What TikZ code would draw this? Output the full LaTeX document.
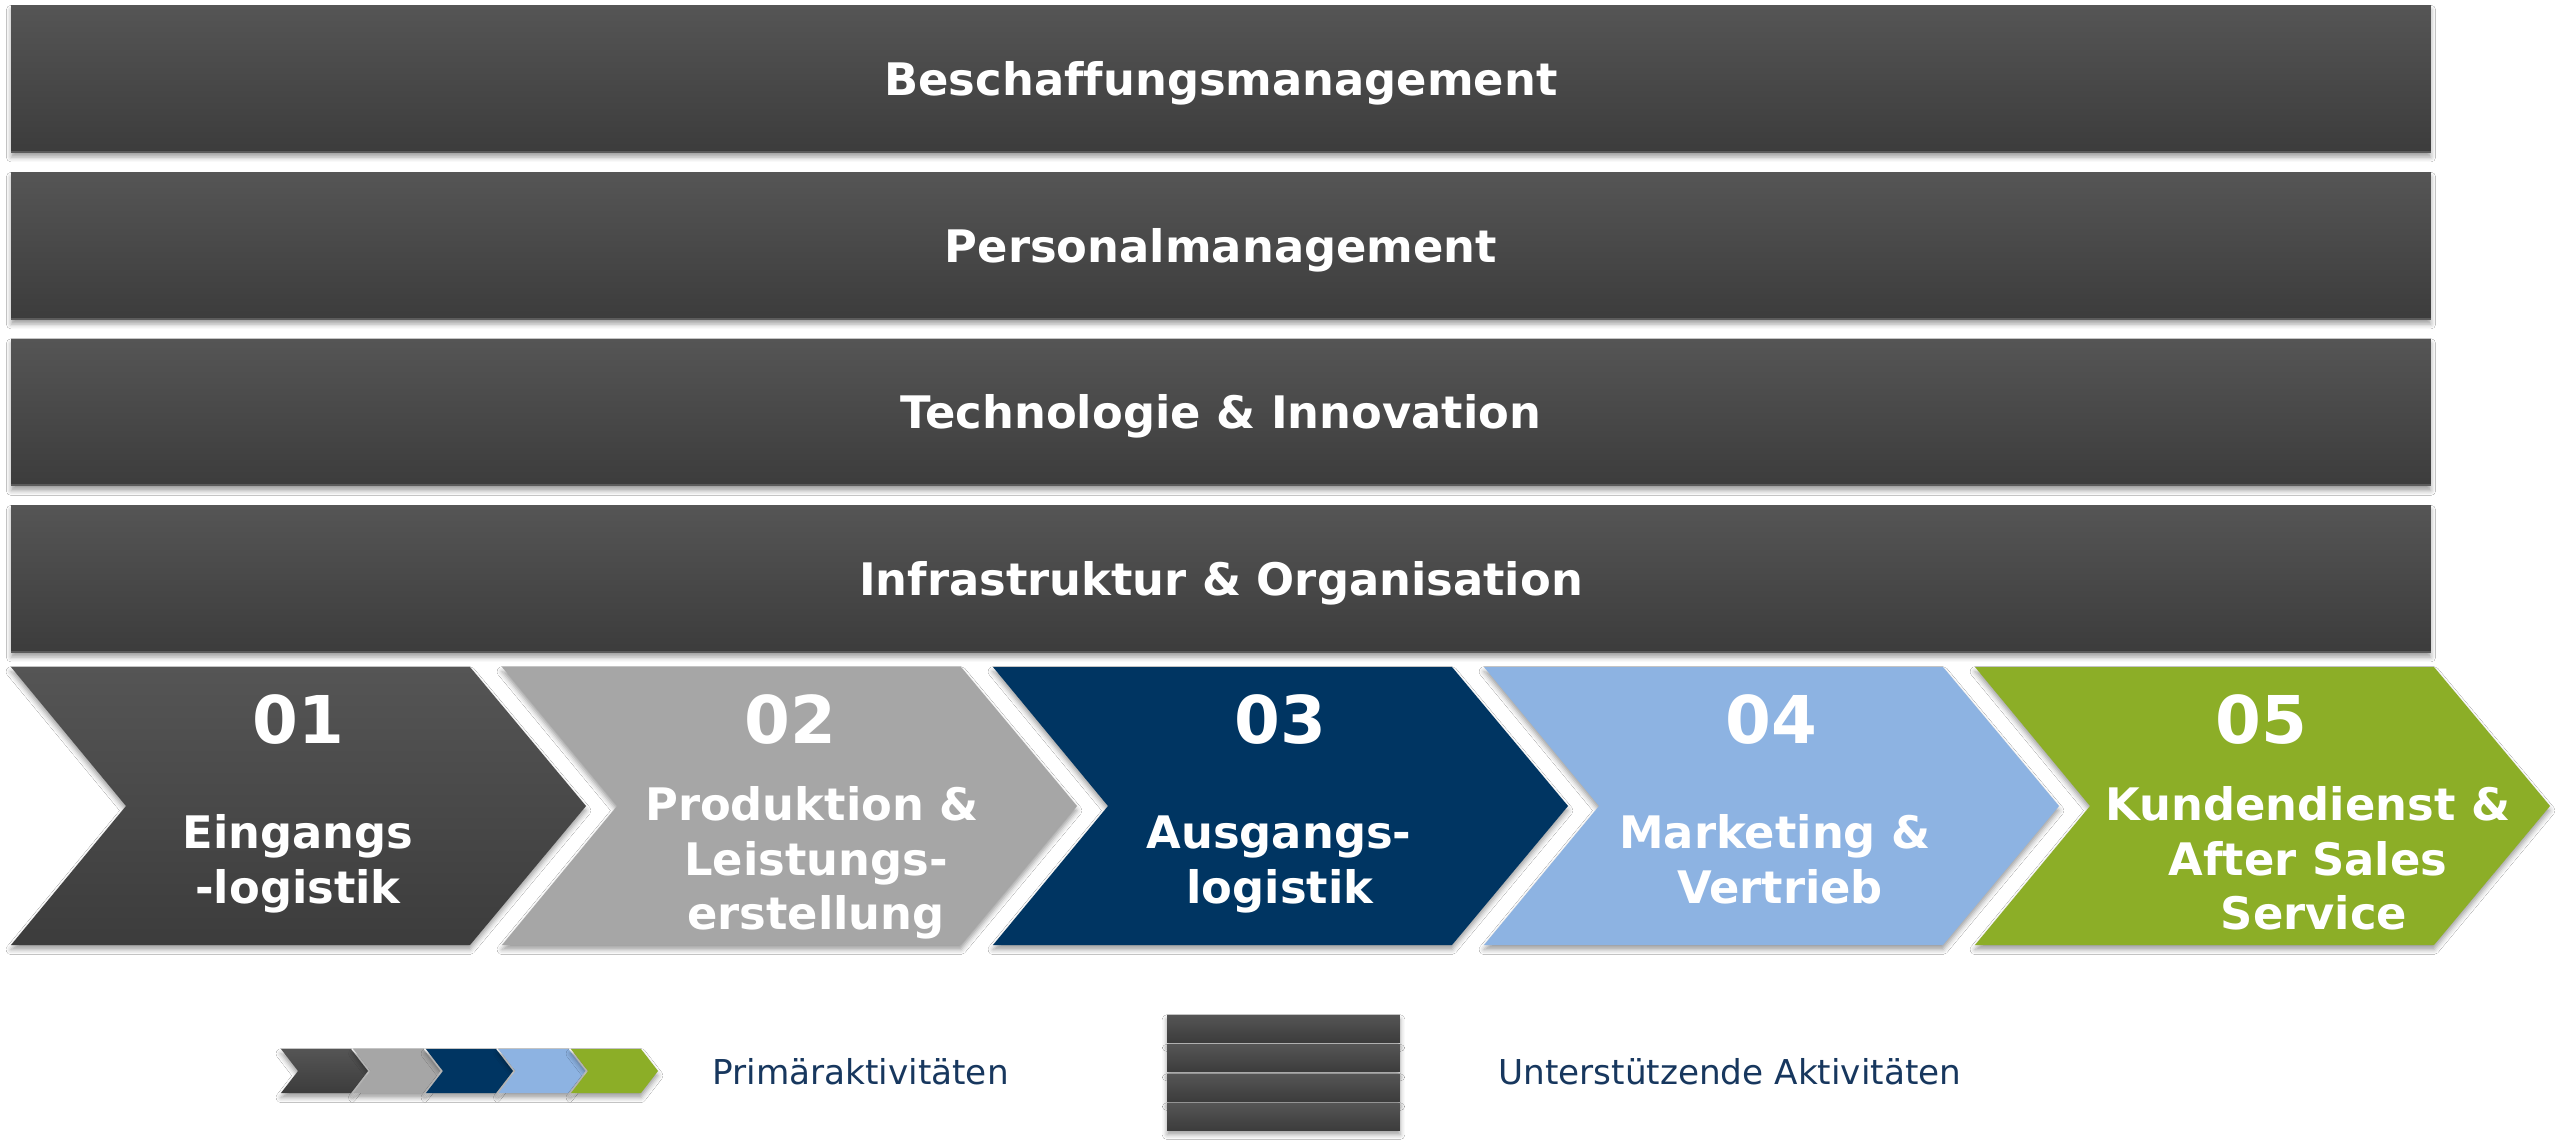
\documentclass[tikz,border=0pt]{standalone}
\usepackage{fontspec}
\setmainfont[Ligatures=NoCommon]{DejaVu Sans}
\usetikzlibrary{shadows.blur}
\definecolor{darktop}{HTML}{555555}
\definecolor{darkbot}{HTML}{3C3C3C}
\definecolor{edgegray}{HTML}{5C5C5C}
\definecolor{midgray}{HTML}{A6A6A6}
\definecolor{navy}{HTML}{003562}
\definecolor{lightblue}{HTML}{8DB3E2}
\definecolor{leafgreen}{HTML}{8CAE27}
\definecolor{legendtext}{HTML}{17375E}
\begin{document}
\begin{tikzpicture}[x=0.02cm,y=-0.02cm,
  softshadow/.style={blur shadow={shadow xshift=0pt,shadow yshift=-2.6pt,shadow blur radius=2.8pt,shadow opacity=38}},
  darkfill/.style={top color=darktop,bottom color=darkbot},
  barbox/.style={rectangle,inner sep=0pt,minimum width=48.4cm,minimum height=2.94cm,
    darkfill,softshadow,text=white,font=\bfseries\fontsize{25.5}{30}\selectfont,
    text height=18.6pt,text depth=0pt},
  minibar/.style={rectangle,inner sep=0pt,minimum width=4.66cm,minimum height=0.54cm,darkfill,softshadow},
  bottomedge/.style={draw=edgegray,line width=1.2pt},
  chevshape/.style={softshadow},
  digit/.style={anchor=base,inner sep=0pt,text=white,font=\bfseries\fontsize{37.5}{42}\selectfont},
  chevtext/.style={anchor=base,inner sep=0pt,text=white,font=\bfseries\fontsize{25.5}{30}\selectfont},
  legtext/.style={anchor=base west,inner sep=0pt,text=legendtext,font=\fontsize{19.5}{24}\selectfont}
]
\useasboundingbox (0,0) rectangle (2560,1147);
\fill[white] (0,0) rectangle (2560,1147);

% support activities
\node[barbox] (b1) at (1221,79) {Beschaffungsmanagement};
\node[barbox] (b2) at (1221,246) {Personalmanagement};
\node[barbox] (b3) at (1221,412.5) {Technologie \& Innovation};
\node[barbox] (b4) at (1221,579) {Infrastruktur \& Organisation};
\foreach \b in {b1,b2,b3,b4}{
  \draw[bottomedge] ([yshift=0.6pt]\b.south west) -- ([yshift=0.6pt]\b.south east);
}

% primary activities (chevrons)
\path[chevshape,darkfill] (11,667) -- ++(459,0) -- ++(116,139) -- ++(-116,139) -- ++(-459,0) -- ++(115,-139) -- cycle;
\path[chevshape,fill=midgray] (502,667) -- ++(459,0) -- ++(116,139) -- ++(-116,139) -- ++(-459,0) -- ++(115,-139) -- cycle;
\path[chevshape,fill=navy] (993,667) -- ++(459,0) -- ++(116,139) -- ++(-116,139) -- ++(-459,0) -- ++(115,-139) -- cycle;
\path[chevshape,fill=lightblue] (1484,667) -- ++(459,0) -- ++(116,139) -- ++(-116,139) -- ++(-459,0) -- ++(115,-139) -- cycle;
\path[chevshape,fill=leafgreen] (1975,667) -- ++(459,0) -- ++(116,139) -- ++(-116,139) -- ++(-459,0) -- ++(115,-139) -- cycle;

\node[digit] (n1) at (298,743) {01};
\node[digit] (n2) at (790,743) {02};
\node[digit] (n3) at (1280,743) {03};
\node[digit] (n4) at (1771,743) {04};
\node[digit] (n5) at (2261,743) {05};

\node[chevtext] (t1a) at (298,848) {Eingangs};
\node[chevtext] (t1b) at (298,903) {-logistik};
\node[chevtext] (t2a) at (812,820) {Produktion \&};
\node[chevtext] (t2b) at (816,875) {Leistungs-};
\node[chevtext] (t2c) at (816,929) {erstellung};
\node[chevtext] (t3a) at (1279,848) {Ausgangs-};
\node[chevtext] (t3b) at (1280,903) {logistik};
\node[chevtext] (t4a) at (1775,848) {Marketing \&};
\node[chevtext] (t4b) at (1780,903) {Vertrieb};
\node[chevtext] (t5a) at (2308,820) {Kundendienst \&};
\node[chevtext] (t5b) at (2308,875) {After Sales};
\node[chevtext] (t5c) at (2314,929) {Service};

% legend: primary
\path[chevshape,darkfill] (281,1049) -- ++(70,0) -- ++(17,22) -- ++(-17,22) -- ++(-70,0) -- ++(17,-22) -- cycle;
\path[chevshape,fill=midgray] (353.5,1049) -- ++(70,0) -- ++(17,22) -- ++(-17,22) -- ++(-70,0) -- ++(17,-22) -- cycle;
\path[chevshape,fill=navy] (426,1049) -- ++(70,0) -- ++(17,22) -- ++(-17,22) -- ++(-70,0) -- ++(17,-22) -- cycle;
\path[chevshape,fill=lightblue] (498.5,1049) -- ++(70,0) -- ++(17,22) -- ++(-17,22) -- ++(-70,0) -- ++(17,-22) -- cycle;
\path[chevshape,fill=leafgreen] (571,1049) -- ++(70,0) -- ++(17,22) -- ++(-17,22) -- ++(-70,0) -- ++(17,-22) -- cycle;
\node[legtext] (lp) at (712,1084) {Primäraktivitäten};

% legend: support
\node[minibar] (m1) at (1283.5,1028.5) {};
\node[minibar] (m2) at (1283.5,1058) {};
\node[minibar] (m3) at (1283.5,1087.5) {};
\node[minibar] (m4) at (1283.5,1116.5) {};
\node[legtext] (lu) at (1498,1084) {Unterstützende Aktivitäten};
\end{tikzpicture}
\end{document}
